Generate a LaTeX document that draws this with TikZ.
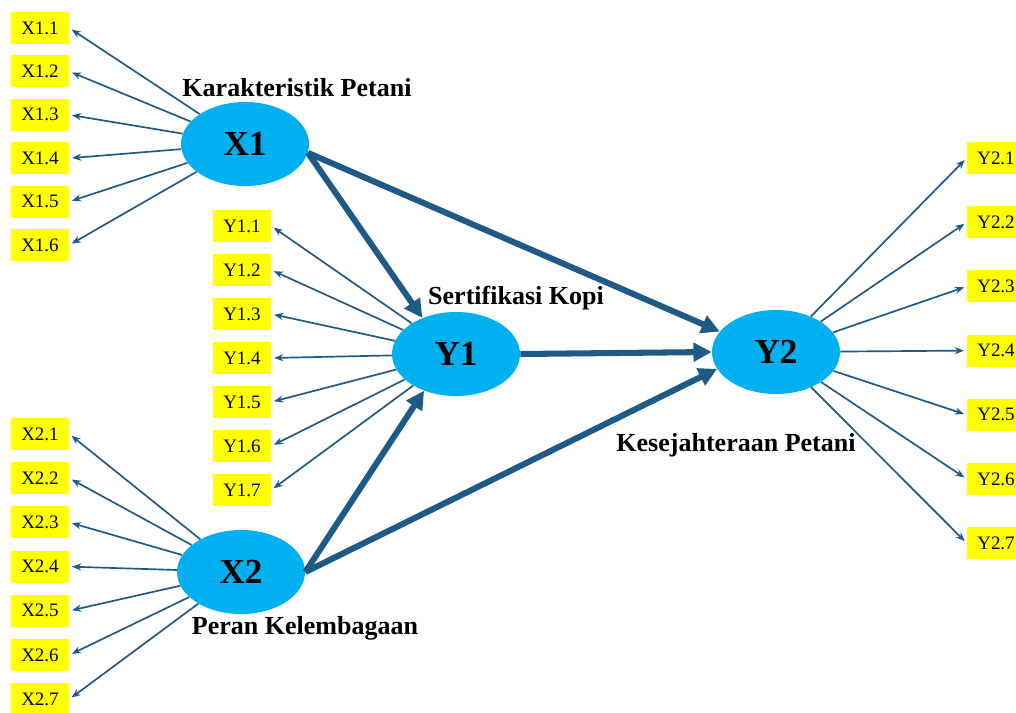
\documentclass[tikz,border=0pt]{standalone}
\usepackage{fontspec}
\setmainfont{Liberation Serif}
\usetikzlibrary{arrows.meta,shapes.geometric,positioning}
\definecolor{latentblue}{RGB}{0,176,240}
\definecolor{pathblue}{RGB}{31,90,135}
\definecolor{itemyellow}{RGB}{255,255,0}
\tikzset{
  latentvar/.style={
    ellipse,
    fill=latentblue,
    minimum width=3.2cm,
    minimum height=2.1cm,
    inner sep=0pt,
    font=\fontsize{25}{28}\selectfont\bfseries},
  indicator/.style={
    rectangle,
    fill=itemyellow,
    minimum width=1.45cm,
    minimum height=0.8cm,
    inner sep=0pt,
    font=\fontsize{13.5}{15}\selectfont},
  varlabel/.style={font=\fontsize{18.5}{22}\selectfont\bfseries},
}

\begin{document}
\begin{tikzpicture}[
    x=0.025cm, y=-0.025cm,
    loading/.style={draw=pathblue, line width=1.2pt,
      -{Stealth[length=6.5pt,width=5pt]}, shorten >=2pt},
    structpath/.style={draw=pathblue, line width=4.3pt,
      -{Triangle[length=13pt,width=13pt]}}
    ]
	\useasboundingbox (0,0) rectangle (1016,712);

	% latent variables
	\node[latentvar] (X1) at (245,144) {X1};
	\node[latentvar] (Y1) at (456,354) {Y1};
	\node[latentvar] (Y2) at (776,352) {Y2};
	\node[latentvar] (X2) at (241,572) {X2};

	\node[varlabel] (lblX1) at (297,88) {Karakteristik Petani};
	\node[varlabel] (lblY1) at (516,298) {Sertifikasi Kopi};
	\node[varlabel] (lblY2) at (736,445) {Kesejahteraan Petani};
	\node[varlabel] (lblX2) at (305,628) {Peran Kelembagaan};

	% indicators
	\foreach \i in {1,...,6}
		\node[indicator] (x1\i) at (40,{28+43.4*(\i-1)}) {X1.\i};
	\foreach \i in {1,...,7}
		\node[indicator] (y1\i) at (242,{226+44*(\i-1)}) {Y1.\i};
	\foreach \i in {1,...,7}
		\node[indicator] (x2\i) at (40,{434+44.2*(\i-1)}) {X2.\i};
	\foreach \i in {1,...,7}
		\node[indicator] (y2\i) at (996,{158+64.2*(\i-1)}) {Y2.\i};

	\foreach \i in {1,...,6}
		\draw[loading] (X1) -- (x1\i.east);
	\foreach \i in {1,...,7} {
		\draw[loading] (Y1) -- (y1\i.east);
		\draw[loading] (X2) -- (x2\i.east);
		\draw[loading] (Y2) -- (y2\i.west);
	}

	% structural paths
	\draw[structpath] (X1.-8) -- (Y1.133);
	\draw[structpath] (X1.-8) -- (Y2.160);
	\draw[structpath] (Y1.east) -- (Y2.west);
	\draw[structpath] (X2.east) -- (Y1.229);
	\draw[structpath] (X2.east) -- (Y2.196);

\end{tikzpicture}
\end{document}
